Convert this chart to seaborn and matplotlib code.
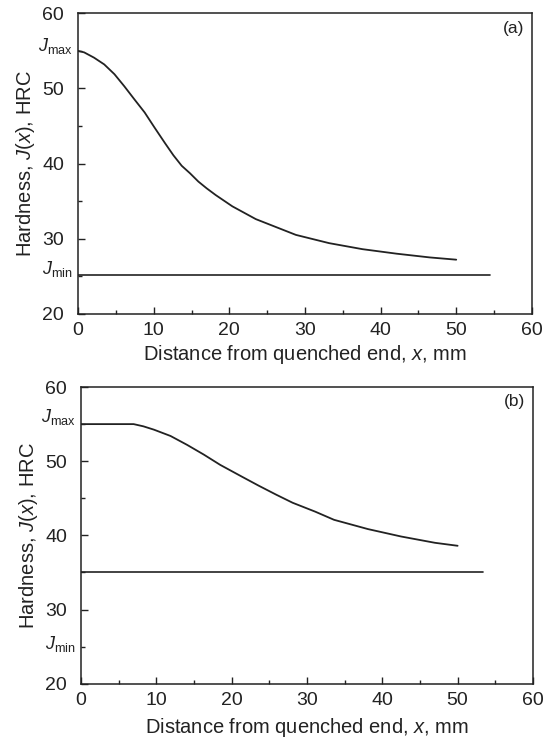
import matplotlib
matplotlib.use("Agg")
import matplotlib.pyplot as plt
import matplotlib.transforms as mtransforms
from matplotlib.ticker import MultipleLocator
import pandas as pd
import seaborn as sns

# Panel (a): hardness curve
xa = [0, 0.8, 2.1, 3.45, 4.8, 6.1, 7.4, 8.8, 10.1, 11.5, 12.6, 13.7, 14.8, 15.9, 17.0, 18.2, 20.4,
      23.5, 28.8, 33.2, 37.6, 42.1, 46.5, 50]
ja = [55.0, 54.8, 54.1, 53.2, 51.9, 50.3, 48.6, 46.8, 44.8, 42.7, 41.1, 39.7, 38.7, 37.6, 36.7, 35.8, 34.3,
      32.6, 30.5, 29.4, 28.6, 28.0, 27.5, 27.2]
jmin_a_line = 25.1
jmin_a_end = 54.5

# Panel (b)
xb = [0, 3.5, 7.0, 8.3, 9.7, 11.9, 14.1, 16.3, 18.5, 21.4, 23.6, 25.9, 28.1, 31.1,
      33.6, 38.1, 42.5, 47.0, 50]
jb = [55.0, 55.0, 55.0, 54.7, 54.25, 53.4, 52.2, 50.9, 49.5, 47.9, 46.7, 45.5, 44.4, 43.2,
      42.1, 40.85, 39.85, 39.0, 38.6]
jmin_b_line = 35.1
jmin_b_end = 53.4

panels = ["(a)", "(b)"]

sns.set_theme(style="ticks")
plt.rcParams['font.family'] = ['Liberation Sans', 'DejaVu Sans']
plt.rcParams['mathtext.fontset'] = 'custom'
plt.rcParams['mathtext.rm'] = 'Liberation Sans'
plt.rcParams['mathtext.it'] = 'Liberation Sans:italic'

fig = plt.figure(figsize=(5.54, 7.4), dpi=100)
ax1 = fig.add_axes([0.141, 0.576, 0.819, 0.406])
ax2 = fig.add_axes([0.146, 0.076, 0.816, 0.401])

df_a = pd.DataFrame({'x': xa, 'J': ja})
df_b = pd.DataFrame({'x': xb, 'J': jb})

ink = '#222222'
sns.lineplot(data=df_a, x='x', y='J', ax=ax1, color=ink, lw=1.3)
ax1.plot([0, jmin_a_end], [jmin_a_line, jmin_a_line], color=ink, lw=1.2)
sns.lineplot(data=df_b, x='x', y='J', ax=ax2, color=ink, lw=1.3)
ax2.plot([0, jmin_b_end], [jmin_b_line, jmin_b_line], color=ink, lw=1.2)

labpos = [(55.6, 26.0), (56.0, 25.3)]
xpads = [3, 5]
for ax, tag, (ymax, ymin), xp in zip([ax1, ax2], panels, labpos, xpads):
    ax.set_xlim(0, 60)
    ax.set_ylim(20, 60)
    ax.xaxis.set_major_locator(MultipleLocator(10))
    ax.xaxis.set_minor_locator(MultipleLocator(5))
    ax.yaxis.set_major_locator(MultipleLocator(10))
    ax.yaxis.set_minor_locator(MultipleLocator(5))
    ax.tick_params(which='both', direction='in', top=False, right=False,
                   labelsize=14, color=ink, labelcolor=ink)
    ax.tick_params(which='major', length=5, width=1)
    ax.tick_params(which='minor', length=3, width=1)
    ax.tick_params(axis='y', pad=10)
    ax.tick_params(axis='x', pad=6)
    for s in ax.spines.values():
        s.set_linewidth(1.1)
        s.set_color(ink)
    ax.set_xlabel('Distance from quenched end, $x$, mm', fontsize=14.5, color=ink, labelpad=xp)
    ax.set_ylabel('Hardness, $J$($x$), HRC', fontsize=14.5, color=ink, labelpad=4)
    ax.text(59, 58, tag, ha='right', va='center', fontsize=12.5, color=ink)
    trans = mtransforms.blended_transform_factory(ax.transAxes, ax.transData)
    ax.text(-0.012, ymax, r'$J_{\rm max}$', transform=trans, ha='right', va='center',
            fontsize=13, color=ink)
    ax.text(-0.012, ymin, r'$J_{\rm min}$', transform=trans, ha='right', va='center',
            fontsize=13, color=ink)

fig.savefig('out.png', dpi=100)
